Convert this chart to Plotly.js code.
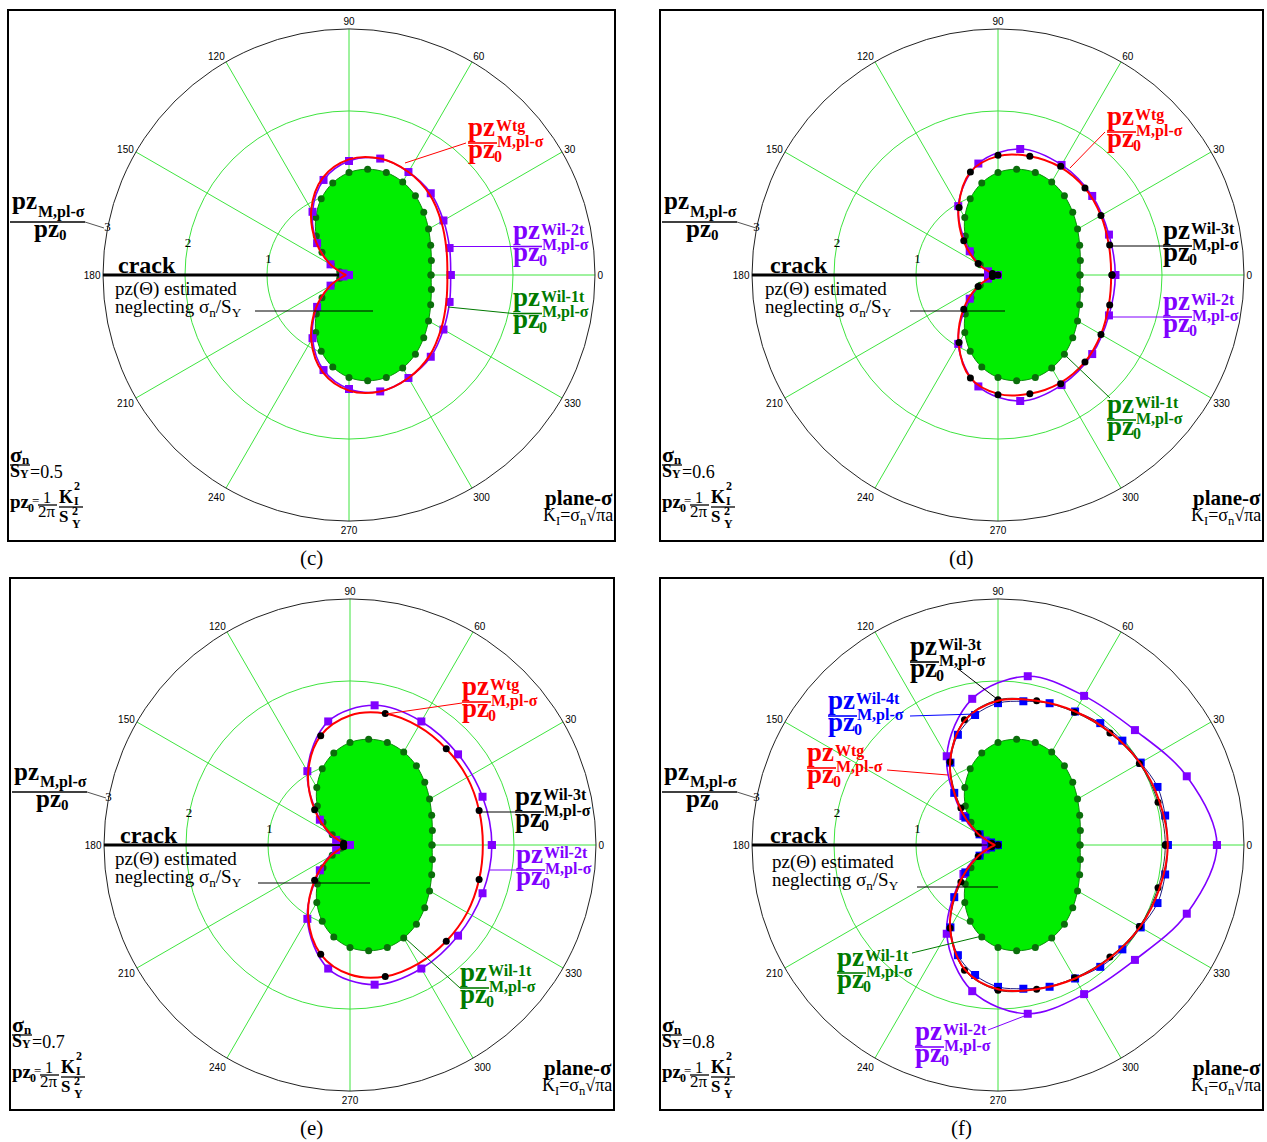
<!DOCTYPE html>
<html><head><meta charset="utf-8">
<script src="https://cdn.plot.ly/plotly-3.0.1.min.js"></script>
<style>html,body{margin:0;padding:0;background:#fff}#chart{width:1267px;height:1142px}</style>
</head><body><div id="chart"></div>
<script>
// ---------------- data ----------------
const ANG10 = [0,10,20,30,40,50,60,70,80,90,100,110,120,130,140,150,160,170,180,190,200,210,220,230,240,250,260,270,280,290,300,310,320,330,340,350,360];
const ANG15 = [0,15,30,45,60,75,90,105,120,135,150,165,180,195,210,225,240,255,270,285,300,315,330,345,360];
const ANG20 = [0,20,40,60,80,100,120,140,160,180,200,220,240,260,280,300,320,340,360];
const ANG30_E = [15,45,75,105,135,165,195,225,255,285,315,345];
const ANG_TICKS = [0,30,60,90,120,150,180,210,240,270,300,330];
const ANG_TICK_LABELS = ['0','30','60','90','120','150','180','210','240','270','300','330'];
const RAD_TICKS = [1,2,3];
const RAD_TICK_LABELS = ['1','2','3'];
const RAD_LABEL_ANGLE = [169,169,169];
const SIGMA_RATIO = ['0.5','0.6','0.7','0.8'];
const CAPTIONS = ['(c)','(d)','(e)','(f)'];

// Wil-1t (green, same in every panel), every 10 deg
const R_WIL1T = [1.00,1.02,1.06,1.12,1.19,1.26,1.31,1.33,1.31,1.25,1.14,0.99,0.81,0.62,0.43,0.25,0.12,0.03,0.00,0.03,0.12,0.25,0.43,0.62,0.81,0.99,1.14,1.25,1.31,1.33,1.31,1.26,1.19,1.12,1.06,1.02,1.00];
// panel (c) sigma_n/S_Y = 0.5
const R_WTG_C   = [1.20,1.23,1.30,1.39,1.45,1.47,1.41,1.23,0.92,0.57,0.27,0.08,0.04,0.08,0.27,0.57,0.92,1.23,1.41,1.47,1.45,1.39,1.30,1.23,1.20];
const R_WIL2T_C = [1.24,1.27,1.33,1.41,1.45,1.47,1.39,1.20,0.89,0.55,0.26,0.07,0.00,0.07,0.26,0.55,0.89,1.20,1.39,1.47,1.45,1.41,1.33,1.27,1.24];
// panel (d) 0.6
const R_WTG_D   = [1.38,1.40,1.45,1.50,1.52,1.50,1.45,1.30,0.96,0.60,0.29,0.08,0.04,0.08,0.29,0.60,0.96,1.30,1.45,1.50,1.52,1.50,1.45,1.40,1.38];
const R_WIL3T_D = [1.39,1.41,1.45,1.50,1.53,1.50,1.46,1.30,0.95,0.59,0.28,0.07,0.00,0.07,0.28,0.59,0.95,1.30,1.46,1.50,1.53,1.50,1.45,1.41,1.39];
const R_WIL2T_D = [1.43,1.44,1.50,1.55,1.56,1.38,0.97,0.45,0.13,0.00,0.13,0.45,0.97,1.38,1.56,1.55,1.50,1.44,1.43];
// panel (e) 0.7
const R_WTG_E   = [1.62,1.63,1.65,1.66,1.67,1.66,1.58,1.38,1.02,0.61,0.28,0.08,0.04,0.08,0.28,0.61,1.02,1.38,1.58,1.66,1.67,1.66,1.65,1.63,1.62];
const R_WIL3T_E = [1.63,1.66,1.66,1.38,0.61,0.08,0.08,0.61,1.38,1.66,1.66,1.63];
const R_WIL2T_E = [1.73,1.72,1.72,1.74,1.73,1.53,1.04,0.48,0.18,0.00,0.18,0.48,1.04,1.53,1.73,1.74,1.72,1.72,1.73];
// panel (f) 0.8
const R_WTG_F   = [2.07,2.04,2.00,1.94,1.88,1.82,1.76,1.57,1.17,0.67,0.29,0.08,0.04,0.08,0.29,0.67,1.17,1.57,1.76,1.82,1.88,1.94,2.00,2.04,2.07];
const R_WIL3T_F = [2.04,2.02,1.99,1.93,1.87,1.82,1.77,1.58,1.17,0.64,0.28,0.08,0.00,0.08,0.28,0.64,1.17,1.58,1.77,1.82,1.87,1.93,1.99,2.02,2.04];
const R_WIL4T_F = [2.07,2.07,2.07,2.01,1.98,1.94,1.88,1.84,1.78,1.73,1.61,1.43,1.16,0.83,0.52,0.26,0.09,0.02,0.00,0.02,0.09,0.26,0.52,0.83,1.16,1.43,1.61,1.73,1.78,1.84,1.88,1.94,1.98,2.01,2.07,2.07,2.07];
const R_WIL2T_F = [2.67,2.45,2.18,2.10,2.09,1.81,1.25,0.55,0.16,0.00,0.16,0.55,1.25,1.81,2.09,2.10,2.18,2.45,2.67];
const CRACK_R = [3, 0.1];
const CRACK_T = [180, 180];

// ---------------- styling ----------------
const SERIF = '"Liberation Serif","Times New Roman",serif';
const SANS = '"Liberation Sans",Arial,sans-serif';
const RED = '#ff0000', PURPLE = '#8000ff', BLUE = '#0000ff', BLACK = '#000000';
const GREEN_TXT = '#007a00', GREEN_FILL = '#00ee00', GREEN_DOT = '#0a6e0a', GRID = '#3fe43f';
const W = 1267, H = 1142;
const px = v => v / W, py = v => 1 - v / H;
const annotations = [], shapes = [], traces = [];

function T(x, base, text, size, color, bold, xanchor) {
  annotations.push({xref:'paper', yref:'paper', x:px(x), y:py(base - 0.34*size),
    text: bold ? '<b>' + text + '</b>' : text, showarrow:false,
    xanchor: xanchor || 'left', yanchor:'middle', borderpad:0,
    font:{family:SERIF, size:size, color:color}});
}
function L(x0, y0, x1, y1, color, width) {
  shapes.push({type:'line', xref:'paper', yref:'paper', x0:px(x0), y0:py(y0), x1:px(x1), y1:py(y1),
    line:{color:color, width:width || 1}});
}
function curveLabel(xL, yB, color, sup) {
  T(xL - 1, yB - 7, 'pz', 27, color, true);
  T(xL + 27, yB - 12, sup, 16, color, true);
  L(xL, yB, xL + 29, yB, color, 1.6);
  T(xL - 1, yB + 15, 'pz', 27, color, true);
  T(xL + 25, yB + 19, '0', 16, color, true);
  T(xL + 28, yB + 4, 'M,pl-σ', 16, color, true);
}

// ---------------- panels ----------------
const PANELS = [
  {sub:'polar',  key:'polar',  c:[349,275], off:[0,0],     box:[8,10,615,541],     right:614,  cap:[311,565], tx:[0,0]},
  {sub:'polar2', key:'polar2', c:[998,275], off:[652,0],   box:[660,10,1263,541],  right:1262, cap:[961,565], tx:[-2,0]},
  {sub:'polar3', key:'polar3', c:[350,845], off:[2,570],   box:[10,578,614,1110],  right:613,  cap:[311,1135], tx:[-2,0]},
  {sub:'polar4', key:'polar4', c:[998,845], off:[652,570], box:[660,578,1263,1110],right:1262, cap:[961,1135], tx:[5,3]}
];
const RADIUS = 246;

const layout = {width:W, height:H, margin:{l:0,r:0,t:0,b:0}, paper_bgcolor:'#fff', showlegend:false,
  annotations:annotations, shapes:shapes};

PANELS.forEach((p, i) => {
  const [cx, cy] = p.c;
  layout[p.key] = {
    domain:{x:[px(cx - RADIUS), px(cx + RADIUS)], y:[py(cy + RADIUS), py(cy - RADIUS)]},
    bgcolor:'#fff',
    angularaxis:{rotation:0, direction:'counterclockwise', tickmode:'array', tickvals:ANG_TICKS, ticktext:ANG_TICK_LABELS,
      showline:true, linecolor:'#222', linewidth:1, gridcolor:GRID, gridwidth:1, ticks:'', layer:'below traces',
      tickfont:{family:SANS, size:10, color:'#000'}},
    radialaxis:{range:[0,3], tickmode:'array', tickvals:RAD_TICKS, showticklabels:false,
      showline:false, ticks:'', gridcolor:GRID, gridwidth:1, layer:'below traces'}
  };
  // border and caption
  const [bx0, by0, bx1, by1] = p.box;
  shapes.push({type:'rect', xref:'paper', yref:'paper', x0:px(bx0), x1:px(bx1), y0:py(by1), y1:py(by0), line:{color:'#000', width:2}});
  T(p.cap[0], p.cap[1], CAPTIONS[i], 21, BLACK, false, 'center');
  // radial tick labels, placed through the polar scale
  traces.push({type:'scatterpolar', subplot:p.sub, r:RAD_TICKS, theta:RAD_LABEL_ANGLE, mode:'text', text:RAD_TICK_LABELS,
    textposition:'middle center', textfont:{family:SERIF, size:13, color:'#000'}, hoverinfo:'skip', cliponaxis:false});
  // green Wil-1t filled zone
  traces.push({type:'scatterpolar', subplot:p.sub, r:R_WIL1T, theta:ANG10, mode:'lines+markers', fill:'toself',
    fillcolor:GREEN_FILL, line:{color:'#0a8a0a', width:1, shape:'spline'}, marker:{color:GREEN_DOT, size:7}, hoverinfo:'skip'});
  // crack
  traces.push({type:'scatterpolar', subplot:p.sub, r:CRACK_R, theta:CRACK_T, mode:'lines', line:{color:'#000', width:3}, hoverinfo:'skip'});

  const [ox, oy] = p.off;
  const [tx, ty] = p.tx;
  // left axis label
  T(11 + ox, 209.5 + oy, 'pz', 25, BLACK, true);
  T(37 + ox, 217 + oy, 'M,pl-σ', 16, BLACK, true);
  L(10 + ox, 222 + oy, 85 + ox, 222 + oy, BLACK, 1.5);
  T(33 + ox, 237 + oy, 'pz', 25, BLACK, true);
  T(58 + ox, 240.5 + oy, '0', 15, BLACK, true);
  L(85 + ox, 222 + oy, 104 + ox, 228 + oy, '#555', 1);
  // crack texts
  T(117 + ox, 273 + oy, 'crack', 24, BLACK, true);
  T(114 + ox + tx, 295 + oy + ty, 'pz(Θ) estimated', 19, BLACK, false);
  T(114 + ox + tx, 314 + oy + ty, 'neglecting σ<sub>n</sub>/S<sub>Y</sub>', 19, BLACK, false);
  // bottom-left formulas
  T(9 + ox, 462 + oy, 'σ', 22, BLACK, true);
  T(21 + ox, 463.5 + oy, 'n', 13, BLACK, true);
  L(10 + ox, 465 + oy, 30 + ox, 465 + oy, BLACK, 1.3);
  T(9 + ox, 477 + oy, 'S', 18, BLACK, true);
  T(19 + ox, 478.5 + oy, 'Y', 12, BLACK, true);
  T(29 + ox, 478.5 + oy, '=' + SIGMA_RATIO[i], 18, BLACK, false);
  T(9 + ox, 507.5 + oy, 'pz', 19, BLACK, true);
  T(27 + ox, 512 + oy, '0', 12, BLACK, true);
  T(31 + ox, 505 + oy, '=', 13, BLACK, false);
  T(47 + ox, 503 + oy, '1', 16, BLACK, false, 'center');
  L(38 + ox, 505 + oy, 57 + ox, 505 + oy, BLACK, 1.3);
  T(47 + ox, 517.5 + oy, '2π', 17, BLACK, false, 'center');
  T(58 + ox, 503.5 + oy, 'K', 18, BLACK, true);
  T(73 + ox, 490.5 + oy, '2', 12, BLACK, true);
  T(73 + ox, 505.5 + oy, 'I', 12, BLACK, true);
  L(59 + ox, 507 + oy, 83 + ox, 507 + oy, BLACK, 1.3);
  T(58 + ox, 522 + oy, 'S', 17, BLACK, true);
  T(71 + ox, 515 + oy, '2', 12, BLACK, true);
  T(71 + ox, 528 + oy, 'Y', 12, BLACK, true);
  // bottom-right
  T(p.right, 505 + oy, 'plane-σ', 21, BLACK, true, 'right');
  T(p.right, 523 + oy, 'K<sub>I</sub>=σ<sub>n</sub>√πa', 18, BLACK, false, 'right');
});

function purple(sub, th, r) {
  traces.push({type:'scatterpolar', subplot:sub, r:r, theta:th, mode:'lines+markers', line:{color:PURPLE, width:1.6, shape:'spline'},
    marker:{symbol:'square', size:8, color:PURPLE}, hoverinfo:'skip'});
}
function blue(sub, th, r) {
  traces.push({type:'scatterpolar', subplot:sub, r:r, theta:th, mode:'lines+markers', line:{color:'#1a1a80', width:1, shape:'spline'},
    marker:{symbol:'square', size:8, color:BLUE}, hoverinfo:'skip'});
}
function red(sub, th, r) {
  traces.push({type:'scatterpolar', subplot:sub, r:r, theta:th, mode:'lines', line:{color:RED, width:2, shape:'spline'}, hoverinfo:'skip'});
}
function black(sub, th, r, withLine) {
  traces.push({type:'scatterpolar', subplot:sub, r:r, theta:th, mode: withLine ? 'lines+markers' : 'markers',
    line:{color:'#333', width:1, shape:'spline'}, marker:{color:BLACK, size:7}, hoverinfo:'skip'});
}

// (c)
purple('polar', ANG15, R_WIL2T_C);
red('polar', ANG15, R_WTG_C);
// (d)
purple('polar2', ANG20, R_WIL2T_D);
red('polar2', ANG15, R_WTG_D);
black('polar2', ANG15, R_WIL3T_D, false);
// (e)
purple('polar3', ANG20, R_WIL2T_E);
red('polar3', ANG15, R_WTG_E);
black('polar3', ANG30_E, R_WIL3T_E, false);
// (f)
purple('polar4', ANG20, R_WIL2T_F);
blue('polar4', ANG10, R_WIL4T_F);
black('polar4', ANG15, R_WIL3T_F, true);
red('polar4', ANG15, R_WTG_F);

// ---------------- curve labels and leader lines ----------------
// (c)
curveLabel(468, 143, RED, 'Wtg');            L(466, 143, 405, 163, RED, 1);
curveLabel(513, 246.5, PURPLE, 'Wil-2t');    L(452, 246.5, 513, 246.5, PURPLE, 1);
curveLabel(513, 313.5, GREEN_TXT, 'Wil-1t'); L(448, 307, 513, 313.5, GREEN_TXT, 1);
L(255, 311, 373, 311, BLACK, 1);
// (d)
curveLabel(1107, 132, RED, 'Wtg');           L(1105, 132, 1070, 168, RED, 1);
curveLabel(1163, 246, BLACK, 'Wil-3t');      L(1110, 246, 1163, 246, BLACK, 1);
curveLabel(1163, 317, PURPLE, 'Wil-2t');     L(1108, 317, 1163, 317, PURPLE, 1);
curveLabel(1107, 420, GREEN_TXT, 'Wil-1t');  L(1067, 357, 1110, 398, GREEN_TXT, 1);
L(910, 311, 1005, 311, BLACK, 1);
// (e)
curveLabel(462, 702, RED, 'Wtg');            L(462, 703, 386, 714, RED, 1);
curveLabel(515, 812, BLACK, 'Wil-3t');       L(480, 812, 515, 812, BLACK, 1);
curveLabel(516, 870, PURPLE, 'Wil-2t');      L(490, 870, 516, 870, PURPLE, 1);
curveLabel(460, 988, GREEN_TXT, 'Wil-1t');   L(405, 938, 460, 988, GREEN_TXT, 1);
L(258, 883, 370, 883, BLACK, 1);
// (f)
curveLabel(910, 662, BLACK, 'Wil-3t');       L(957, 668, 997, 699, BLACK, 1);
curveLabel(828, 716, BLUE, 'Wil-4t');        L(910, 716, 976, 714, BLUE, 1);
curveLabel(807, 768, RED, 'Wtg');            L(887, 770, 948, 775, RED, 1);
curveLabel(837, 973, GREEN_TXT, 'Wil-1t');   L(912, 953, 982, 936, GREEN_TXT, 1);
curveLabel(915, 1047, PURPLE, 'Wil-2t');     L(988, 1030, 1027, 1015, PURPLE, 1);
L(917, 887, 998, 887, BLACK, 1);

Plotly.newPlot('chart', traces, layout, {staticPlot:true, displayModeBar:false});
</script></body></html>
